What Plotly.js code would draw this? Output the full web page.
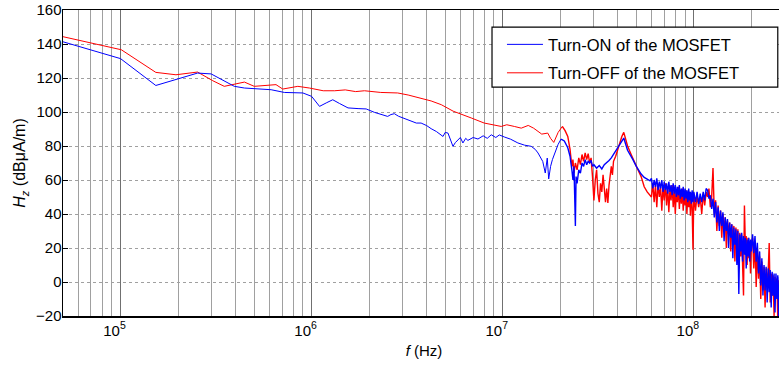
<!DOCTYPE html>
<html>
<head>
<meta charset="utf-8">
<script src="https://cdn.plot.ly/plotly-3.0.1.min.js"></script>
<style>
html,body{margin:0;padding:0;background:#fff;overflow:hidden;width:779px;height:366px;}
#chart{width:785px;height:366px;}
</style>
</head>
<body>
<div id="chart"></div>
<script>
// Turn-ON of the MOSFET (blue) — smooth low-frequency part, 50 kHz to 20 MHz
const freqOnLow = [
5e4,1.0e5,1.53e5,2.53e5,2.98e5,3.94e5,4.45e5,6.14e5,7.2e5,9.0e5,
1.0e6,1.05e6,1.1e6,1.2e6,1.29e6,1.4e6,1.55e6,1.75e6,1.93e6,2.13e6,2.3e6,2.5e6,2.6e6,2.71e6,2.85e6,3.06e6,3.3e6,3.53e6,3.74e6,4.0e6,4.22e6,4.5e6,4.87e6,5.0e6,5.17e6,5.3e6,5.49e6,5.65e6,5.82e6,6.0e6,6.19e6,6.4e6,6.57e6,7.0e6,7.42e6,7.9e6,8.3e6,8.71e6,9.2e6,9.6e6,
1.02e7,1.1e7,1.2e7,1.3e7,1.41e7,1.48e7,1.53e7,1.58e7,1.62e7,1.67e7,1.71e7,1.74e7,1.78e7,1.82e7,1.87e7,1.95e7,2.02e7
];
const hzOnLow = [
141.3,131.4,115.6,122.9,122.4,115.1,114.1,113.1,111.5,111.2,
109.2,106,103.3,105.5,107.2,105,102.4,102,101.8,99.8,98.5,97.4,98.5,99,97.5,96.1,95,93.5,93.5,92,90.2,88.5,85.6,88,87.6,84,79.8,82,83.7,85,81.8,84.5,83.3,85,84.1,86,84.5,86.6,85,86.5,
85.3,84,81.8,80.5,79.8,78,75.9,73,70.9,64.1,72.9,60.6,68,72,75.9,81,84.1
];
// Turn-ON of the MOSFET (blue) — noisy high-frequency part, 20 MHz to 290 MHz
const freqOnHigh = [
2.02e7,2.1e7,2.19e7,2.25e7,2.3e7,2.33e7,2.36e7,2.38e7,2.4e7,2.42e7,2.45e7,2.5e7,2.55e7,2.6e7,2.65e7,2.7e7,2.75e7,2.8e7,2.85e7,2.9e7,2.95e7,3.0e7,3.1e7,3.2e7,3.3e7,3.4e7,3.5e7,3.6e7,3.7e7,3.8e7,3.9e7,4.0e7,4.1e7,4.2e7,4.3e7,4.4e7,4.5e7,4.8e7,5.0e7,5.3e7,5.5e7,5.7e7,5.9e7,
6.0e7,6.1e7,6.2e7,6.3e7,6.4e7,6.5e7,6.6e7,6.7e7,6.8e7,6.9e7,7.0e7,7.1e7,7.2e7,7.3e7,7.4e7,7.5e7,7.6e7,7.7e7,7.8e7,7.9e7,8.0e7,8.1e7,8.2e7,8.3e7,8.4e7,8.5e7,8.6e7,8.7e7,8.8e7,8.9e7,9.0e7,9.1e7,9.2e7,9.3e7,9.4e7,9.5e7,9.6e7,9.7e7,9.8e7,9.9e7,1.0e8,
1.02e8,1.04e8,1.06e8,1.08e8,1.10e8,1.12e8,1.14e8,1.16e8,1.18e8,1.20e8,1.22e8,1.24e8,1.26e8,1.28e8,1.30e8,1.32e8,1.34e8,1.36e8,1.38e8,1.40e8,1.42e8,1.44e8,1.46e8,1.48e8,1.50e8,1.52e8,1.54e8,1.56e8,1.58e8,1.60e8,1.62e8,1.64e8,1.66e8,1.68e8,1.70e8,1.72e8,1.74e8,1.76e8,1.78e8,1.80e8,1.82e8,1.84e8,1.86e8,1.88e8,1.90e8,1.92e8,1.94e8,1.96e8,1.98e8,2.00e8,
2.03e8,2.06e8,2.09e8,2.12e8,2.15e8,2.18e8,2.21e8,2.24e8,2.27e8,2.30e8,2.33e8,2.36e8,2.39e8,2.42e8,2.45e8,2.48e8,2.51e8,2.54e8,2.57e8,2.60e8,2.63e8,2.66e8,2.69e8,2.72e8,2.75e8,2.78e8,2.81e8,2.84e8,2.87e8,2.90e8
];
const hzOnHigh = [
84.1,83,79,74,66,60,68,55,33,62,58,66,64,70,68,72,69,71,70,71.5,68,69,67,68.5,66.5,69,70,71.5,73,75,77,79,81,83,84.7,81,77.5,72,68,63.5,61.5,60.5,59.5,
61,55,60,56,61,54,59,55,60,53,59,54,58,52,59,53,57,51,58,52,57,50,56,51,57,49,55,50,56,48,55,49,54,47,55,48,53,46,54,47,53,
47,53,46,52,47,53,48,55,54,49,51,43,49,38,47,35,44,30,42,33,41,24,38,30,37,20,35,26,34,14,32,22,31,10,30,-7,28,18,29,12,27,16,26,8,25,15,26,12,25,18,
28,17,27,12,23,5,18,-2,14,-8,10,-5,9,-12,8,-6,7,-15,6,-8,5,-18,5,-10,4,-22,3,-12,2,-25
];

// Turn-OFF of the MOSFET (red) — smooth low-frequency part, 50 kHz to 20.5 MHz
const freqOffLow = [
5e4,1.01e5,1.53e5,1.95e5,2.53e5,3.04e5,3.49e5,4.45e5,5.01e5,6.51e5,7.06e5,8.47e5,9.73e5,
1.04e6,1.15e6,1.32e6,1.5e6,1.7e6,1.89e6,2.3e6,2.82e6,3.2e6,3.6e6,4.22e6,4.77e6,5.5e6,6.84e6,8.0e6,9.82e6,
1.05e7,1.15e7,1.25e7,1.36e7,1.45e7,1.53e7,1.6e7,1.72e7,1.78e7,1.85e7,1.95e7,2.05e7
];
const hzOffLow = [
144.3,136.6,123.3,121.9,123.5,118.4,115.1,117.6,115.1,116.1,113.5,115.1,114.1,
113.5,112.5,112.5,113,112,112.5,111.5,111.2,110,108.6,106.5,104.3,100.5,96.5,93.5,91.5,
92.5,91.5,90.5,92.1,90.5,88.6,87,87.6,84.5,82.1,88,91.5
];
// Turn-OFF of the MOSFET (red) — noisy high-frequency part, 20.5 MHz to 290 MHz
const freqOffHigh = [
2.05e7,2.12e7,2.19e7,2.25e7,2.3e7,2.33e7,2.36e7,2.4e7,2.45e7,2.5e7,2.55e7,2.6e7,2.65e7,2.7e7,2.75e7,2.8e7,2.85e7,2.9e7,2.95e7,3.0e7,3.05e7,3.1e7,3.15e7,3.2e7,3.25e7,3.3e7,3.35e7,3.4e7,3.45e7,3.5e7,3.55e7,3.6e7,3.65e7,3.7e7,3.75e7,3.8e7,3.9e7,4.0e7,4.1e7,4.2e7,4.3e7,4.4e7,4.5e7,4.7e7,4.9e7,5.1e7,5.3e7,5.5e7,5.7e7,5.9e7,
6.0e7,6.1e7,6.2e7,6.3e7,6.4e7,6.5e7,6.6e7,6.7e7,6.8e7,6.9e7,7.0e7,7.1e7,7.2e7,7.3e7,7.4e7,7.5e7,7.6e7,7.7e7,7.8e7,7.9e7,8.0e7,8.1e7,8.2e7,8.3e7,8.4e7,8.5e7,8.6e7,8.7e7,8.8e7,8.9e7,9.0e7,9.1e7,9.2e7,9.3e7,9.4e7,9.5e7,9.6e7,9.7e7,9.8e7,9.9e7,1.0e8,
1.02e8,1.04e8,1.06e8,1.08e8,1.10e8,1.12e8,1.14e8,1.16e8,1.18e8,1.20e8,1.22e8,1.24e8,1.26e8,1.28e8,1.30e8,1.32e8,1.34e8,1.36e8,1.38e8,1.40e8,1.42e8,1.44e8,1.46e8,1.48e8,1.50e8,1.52e8,1.54e8,1.56e8,1.58e8,1.60e8,1.62e8,1.64e8,1.66e8,1.68e8,1.70e8,1.72e8,1.74e8,1.76e8,1.78e8,1.80e8,1.82e8,1.84e8,1.86e8,1.88e8,1.90e8,1.92e8,1.94e8,1.96e8,1.98e8,2.00e8,
2.03e8,2.06e8,2.09e8,2.12e8,2.15e8,2.18e8,2.21e8,2.24e8,2.27e8,2.30e8,2.33e8,2.36e8,2.39e8,2.42e8,2.45e8,2.48e8,2.51e8,2.54e8,2.57e8,2.60e8,2.63e8,2.66e8,2.69e8,2.72e8,2.75e8,2.78e8,2.81e8,2.84e8,2.87e8,2.90e8
];
const hzOffHigh = [
91.5,89,85.6,78,68,72,64,70,66,73,69,75,71,76,72,75.5,70,73,62,48,60,66,52,47,58,53,63,56,47,55,46.5,57,64,68,63,71,74,78,82,85.6,88,83,80,75,70,66,62,56,53,51,
50,58,47,57,44,58,50,56,42,57,48,58,45,56,41,55,48,57,44,55,40,54,47,56,43,54,46,55,42,53,45,54,40,52,44,53,39,51,44,19,52,
42,51,44,50,40,52,45,53,50,55,44,50,67,40,48,30,45,33,42,26,40,30,38,20,36,28,35,18,34,24,33,12,32,20,31,8,29,15,28,10,-8,45,22,27,10,26,14,24,5,22,
26,8,24,-3,20,2,15,-10,12,-5,9,-15,8,0,6,23,-12,5,-8,4,-20,3,-6,2,-22,1,-10,0,-25,-5
];

const xTickVals = [1e5, 1e6, 1e7, 1e8];
const xTickText = ["10<sup>5</sup>", "10<sup>6</sup>", "10<sup>7</sup>", "10<sup>8</sup>"];
const seriesNames = ["Turn-ON of the MOSFET", "Turn-OFF of the MOSFET"];

const FONT = "Arial, 'Liberation Sans', sans-serif";
const BLUE = "#0000ff", RED = "#ff0000";

const traces = [
  {x: freqOffLow, y: hzOffLow, type: "scatter", mode: "lines", name: seriesNames[1],
   line: {color: RED, width: 1}, legendgroup: "b", legendrank: 2},
  {x: freqOffHigh, y: hzOffHigh, type: "scatter", mode: "lines", name: seriesNames[1],
   line: {color: RED, width: 1.4}, legendgroup: "b", showlegend: false},
  {x: freqOnLow, y: hzOnLow, type: "scatter", mode: "lines", name: seriesNames[0],
   line: {color: BLUE, width: 1}, legendgroup: "a", legendrank: 1},
  {x: freqOnHigh, y: hzOnHigh, type: "scatter", mode: "lines", name: seriesNames[0],
   line: {color: BLUE, width: 1.4}, legendgroup: "a", showlegend: false}
];

const layout = {
  width: 785, height: 366,
  margin: {l: 63, r: 0, t: 10, b: 50},
  paper_bgcolor: "#fff", plot_bgcolor: "#fff",
  font: {family: FONT, size: 15, color: "#000"},
  showlegend: true,
  legend: {x: 0.608, y: 0.944, xanchor: "left", yanchor: "top",
    bgcolor: "rgba(0,0,0,0)", borderwidth: 0, itemwidth: 36,
    traceorder: "grouped", tracegroupgap: 4,
    font: {family: FONT, size: 16.5, color: "#000"}},
  shapes: [{type: "rect", xref: "paper", yref: "paper", x0: 0.5942, x1: 0.990, y0: 0.748, y1: 0.944,
    line: {color: "#000", width: 1.2}, fillcolor: "#fff", layer: "above"}],
  xaxis: {
    type: "log", range: [Math.log10(5e4), Math.log10(3e8)],
    tickvals: xTickVals, ticktext: xTickText, ticklabelshift: -6,
    showgrid: true, gridcolor: "#707070", gridwidth: 1,
    minor: {dtick: "D1", showgrid: true, gridcolor: "#a0a0a0", gridwidth: 1, ticks: ""},
    ticks: "", showline: true, linecolor: "#000", linewidth: 1.5, mirror: true,
    zeroline: false, tickfont: {family: FONT, size: 15},
    title: {text: "<i>f</i> (Hz)", font: {family: FONT, size: 15}, standoff: 8}
  },
  yaxis: {
    range: [-20, 160], dtick: 20, tick0: 0,
    showgrid: true, gridcolor: "#a0a0a0", griddash: "dot", gridwidth: 1,
    ticks: "inside", ticklen: 5, tickcolor: "#000", ticklabelstandoff: -3,
    showline: true, linecolor: "#000", linewidth: 1.5, mirror: true,
    zeroline: false, tickfont: {family: FONT, size: 15},
    title: {text: "<i>H</i><sub><i>z</i></sub> (dBμA/m)", font: {family: FONT, size: 16}, standoff: 6}
  }
};

Plotly.newPlot("chart", traces, layout, {displayModeBar: false, staticPlot: true});
</script>
</body>
</html>
